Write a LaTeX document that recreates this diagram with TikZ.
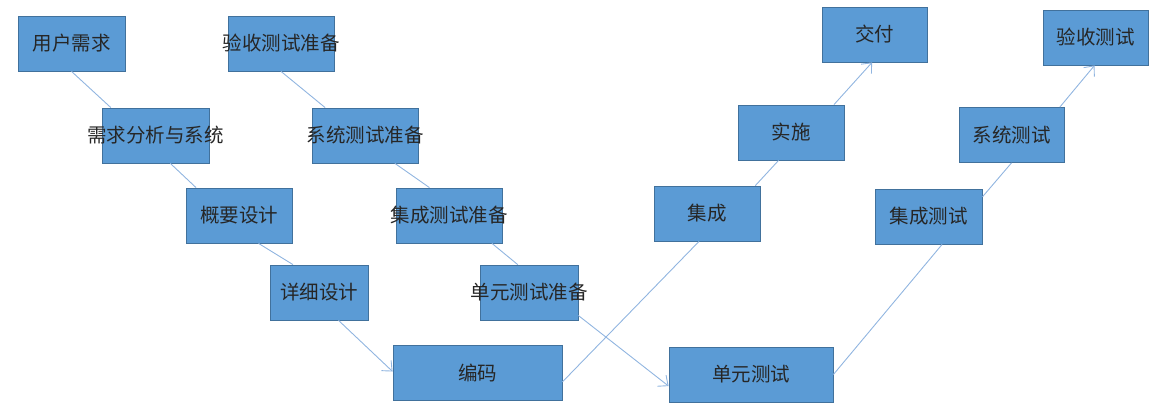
\documentclass[tikz,border=0pt]{standalone}
\usepackage{fontspec}
\newfontfamily\cjk{Noto Sans CJK SC}
\usetikzlibrary{arrows.meta}
\definecolor{boxfill}{HTML}{5B9BD5}
\definecolor{boxedge}{HTML}{41719C}
\definecolor{linkblue}{HTML}{91B5E0}
\begin{document}
\begin{tikzpicture}[x=1pt, y=-1pt]
      \useasboundingbox (0,0) rectangle (1151,408);
      \tikzstyle{box}=[rectangle, draw=boxedge, fill=boxfill, line width=0.8pt,
        minimum height=55pt, inner sep=0pt]
      \tikzstyle{every label}=[font=\cjk\fontsize{19.5}{22}\selectfont, text=black!85]
      \tikzstyle{link}=[draw=linkblue, line width=0.9pt]
      \tikzstyle{linkto}=[link, -{Straight Barb[length=8pt, width=14pt]}]

      \foreach \n/\x/\y/\w/\t in {
        yhxq/71.5/43.5/107/用户需求,
        xqfx/155.5/135.5/107/需求分析与系统,
        gysj/239/215.5/106/概要设计,
        xxsj/319/292.5/98/详细设计,
        ysyb/281/43.5/106/验收测试准备,
        xtyb/365/135.5/106/系统测试准备,
        jcyb/449/215.5/106/集成测试准备,
        dyyb/529/292.5/98/单元测试准备,
        bm/477.5/373/169/编码,
        dycs/751/374.5/164/单元测试,
        jc/707/213.5/106/集成,
        ss/791/132.5/106/实施,
        jf/874.5/34.5/105/交付,
        jccs/928.5/216.5/107/集成测试,
        xtcs/1011.5/135/105/系统测试,
        yscs/1095.5/37.5/105/验收测试}
      {
        \node[box, minimum width=\w pt, label=center:{\t}] (\n) at (\x,\y) {};
      }

      \foreach \a/\b in {yhxq.south/xqfx.148, xqfx.298/gysj.147,
        gysj.305/xxsj.133, ysyb.south/xtyb.145, xtyb.317/jcyb.125,
        jcyb.327/dyyb.112, bm.354/jc.254, jc.30/ss.246,
        dycs.east/jccs.296, jccs.20/xtcs.south}
      {
        \draw[link] (\a) -- (\b);
      }

      \draw[linkto]
        (xxsj.305) -- (bm.179);
      \draw[linkto]
        (dyyb.335) -- (dycs.188);
      \draw[linkto]
        (ss.33) -- (jf.265);
      \draw[linkto]
        (xtcs.30) -- (yscs.268);
    \end{tikzpicture}
\end{document}
